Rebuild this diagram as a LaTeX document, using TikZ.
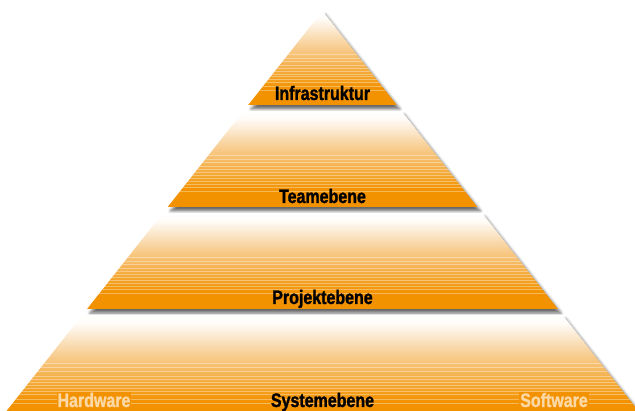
\documentclass[tikz,border=0pt]{standalone}
\usepackage{fontspec}
\newfontfamily\pyrfont[FakeStretch=0.82, BoldFeatures={FakeBold=1.3}]{Liberation Sans}
\usetikzlibrary{shadows.blur}
\definecolor{pyr_orange}{HTML}{F39200}
\definecolor{pyr_mid}{HTML}{F4A226}
\definecolor{pyr_light}{HTML}{F6BC68}
\definecolor{pyr_peach}{HTML}{F9D9AC}
\definecolor{pyr_cream}{HTML}{FCD8A4}
% white at the top edge of a layer, full orange at its bottom
\pgfdeclareverticalshading{layershade}{100bp}{%
  color(0bp)=(pyr_orange); color(34bp)=(pyr_orange); color(40bp)=(pyr_mid);
  color(50bp)=(pyr_light); color(60bp)=(pyr_peach);
  color(71bp)=(white!92!pyr_peach); color(75bp)=(white); color(100bp)=(white)}

% edges of the pyramid: centre 322.5, apex row 11, slope 0.79
\newcommand{\pyrleft}[1]{{322.5-0.79*(#1-11)}}
\newcommand{\pyrright}[1]{{322.5+0.79*(#1-11)}}
% one layer: #1 top row, #2 bottom row
\newcommand{\pyrlayer}[2]{%
  \shade[layer] (\pyrleft{#1},#1) -- (\pyrright{#1},#1)
    -- (\pyrright{#2},#2) -- (\pyrleft{#2},#2) -- cycle;
  \begin{scope}
    \clip (\pyrleft{#1},#1) -- (\pyrright{#1},#1)
      -- (\pyrright{#2},#2) -- (\pyrleft{#2},#2) -- cycle;
    \foreach \f in {0.46,0.50,0.54,0.58,0.61,0.64,0.67,0.70,0.73,0.76,0.80,0.84}
      \draw[stripe] (0,{#1+\f*(#2-#1)}) -- (635,{#1+\f*(#2-#1)});
  \end{scope}}

\begin{document}
\begin{tikzpicture}[
    x=1pt, y=-1pt,
    layer/.style={shading=layershade,
      blur shadow={shadow xshift=3pt, shadow yshift=-4pt,
                   shadow blur radius=3pt, shadow opacity=60}},
    stripe/.style={white, opacity=0.35, line width=0.7pt},
    level/.style={anchor=base, inner sep=0pt, font=\pyrfont\bfseries\fontsize{19.5}{22}\selectfont},
    side/.style={level, pyr_cream, fill=pyr_orange, inner sep=1pt}
]
\useasboundingbox (0,0) rectangle (635,411);
\clip (0,0) rectangle (635,411);

% -------- Layers, top to bottom -----------------------------
\pyrlayer{11}{105}
\pyrlayer{111}{207}
\pyrlayer{213}{309}
\pyrlayer{315}{420}

% -------- Labels --------------------------------------------
\node[level] (infra)   at (322.5,100) {Infrastruktur};
\node[level] (team)    at (322.5,203) {Teamebene};
\node[level] (projekt) at (322.5,304) {Projektebene};
\node[level] (system)  at (322.5,407) {Systemebene};
\node[side]  (hw)      at (94,407)    {Hardware};
\node[side]  (sw)      at (554,407)   {Software};

\end{tikzpicture}
\end{document}
